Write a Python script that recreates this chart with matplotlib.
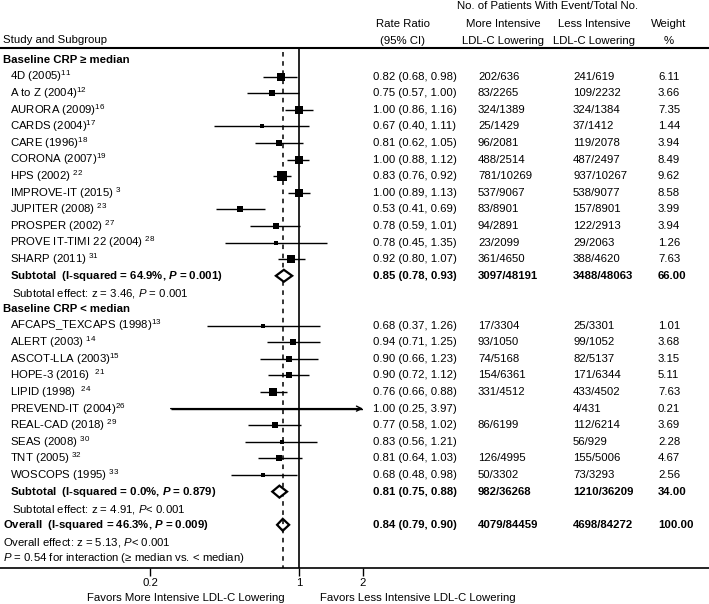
import matplotlib.pyplot as plt
from matplotlib import transforms
from matplotlib.patches import Polygon

plt.rcParams["font.family"] = ["Liberation Sans", "DejaVu Sans"]
plt.rcParams["mathtext.fontset"] = "custom"
plt.rcParams["mathtext.rm"] = "Liberation Sans"
plt.rcParams["mathtext.it"] = "Liberation Sans:italic"
plt.rcParams["mathtext.bf"] = "Liberation Sans:bold"
plt.rcParams["mathtext.bfit"] = "Liberation Sans:bold:italic"

# ---- data: baseline CRP >= median
names_hi = ["4D (2005)", "A to Z (2004)", "AURORA (2009)", "CARDS (2004)", "CARE (1996)",
            "CORONA (2007)", "HPS (2002) ", "IMPROVE-IT (2015) ", "JUPITER (2008) ",
            "PROSPER (2002) ", "PROVE IT-TIMI 22 (2004) ", "SHARP (2011) "]
refs_hi = ["11", "12", "16", "17", "18", "19", "22", "3", "23", "27", "28", "31"]
rr_hi = [0.82, 0.75, 1.00, 0.67, 0.81, 1.00, 0.83, 1.00, 0.53, 0.78, 0.78, 0.92]
lo_hi = [0.68, 0.57, 0.86, 0.40, 0.62, 0.88, 0.76, 0.89, 0.41, 0.59, 0.45, 0.80]
up_hi = [0.98, 1.00, 1.16, 1.11, 1.05, 1.12, 0.92, 1.13, 0.69, 1.01, 1.35, 1.07]
more_hi = ["202/636", "83/2265", "324/1389", "25/1429", "96/2081", "488/2514",
           "781/10269", "537/9067", "83/8901", "94/2891", "23/2099", "361/4650"]
less_hi = ["241/619", "109/2232", "324/1384", "37/1412", "119/2078", "487/2497",
           "937/10267", "538/9077", "157/8901", "122/2913", "29/2063", "388/4620"]
wt_hi = [6.11, 3.66, 7.35, 1.44, 3.94, 8.49, 9.62, 8.58, 3.99, 3.94, 1.26, 7.63]

# ---- data: baseline CRP < median
names_lo = ["AFCAPS_TEXCAPS (1998)", "ALERT (2003) ", "ASCOT-LLA (2003)", "HOPE-3 (2016)  ",
            "LIPID (1998)  ", "PREVEND-IT (2004)", "REAL-CAD (2018) ", "SEAS (2008) ",
            "TNT (2005) ", "WOSCOPS (1995) "]
refs_lo = ["13", "14", "15", "21", "24", "26", "29", "30", "32", "33"]
rr_lo = [0.68, 0.94, 0.90, 0.90, 0.76, 1.00, 0.77, 0.83, 0.81, 0.68]
lo_lo = [0.37, 0.71, 0.66, 0.72, 0.66, 0.25, 0.58, 0.56, 0.64, 0.48]
up_lo = [1.26, 1.25, 1.23, 1.12, 0.88, 3.97, 1.02, 1.21, 1.03, 0.98]
more_lo = ["17/3304", "93/1050", "74/5168", "154/6361", "331/4512", "",
           "86/6199", "", "126/4995", "50/3302"]
less_lo = ["25/3301", "99/1052", "82/5137", "171/6344", "433/4502", "4/431",
           "112/6214", "56/929", "155/5006", "73/3293"]
wt_lo = [1.01, 3.68, 3.15, 5.11, 7.63, 0.21, 3.69, 2.28, 4.67, 2.56]

# ---- pooled estimates: subtotal >= median, subtotal < median, overall
pool_rr = [0.85, 0.81, 0.84]
pool_lo = [0.78, 0.75, 0.79]
pool_up = [0.93, 0.88, 0.90]
pool_more = ["3097/48191", "982/36268", "4079/84459"]
pool_less = ["3488/48063", "1210/36209", "4698/84272"]
pool_wt = ["66.00", "34.00", "100.00"]
pool_het = [r"Subtotal  (I-squared = 64.9%, $\mathbfit{P}$ = 0.001)",
            r"Subtotal  (I-squared = 0.0%, $\mathbfit{P}$ = 0.879)",
            r"Overall  (I-squared = 46.3%, $\mathbfit{P}$ = 0.009)"]
pool_eff = [r"Subtotal effect: z = 3.46, $P$ = 0.001",
            r"Subtotal effect: z = 4.91, $P$< 0.001",
            r"Overall effect: z = 5.13, $P$< 0.001"]

W, H = 709, 604
FS = 8.2
fig = plt.figure(figsize=(W / 100, H / 100), dpi=100)

# forest panel (log scale)
ax = fig.add_axes([150 / W, 1 - 568 / H, (363 - 150) / W, (568 - 48) / H])
ax.set_xscale("log")
ax.set_xlim(0.2, 2.0)
ax.set_ylim(30.6, -0.72)
ax.patch.set_visible(False)
for s in ax.spines.values():
    s.set_visible(False)
ax.set_yticks([])
ax.set_xticks([0.2, 1, 2])
ax.set_xticklabels(["0.2", "1", "2"])
ax.minorticks_off()
ax.tick_params(axis="x", length=6, width=1, pad=1.5, labelsize=FS)

# overlay in pixel coords for text and full-width rules
tax = fig.add_axes([0, 0, 1, 1])
tax.set_xlim(0, W)
tax.set_ylim(H, 0)
tax.axis("off")
tax.patch.set_visible(False)
tr = transforms.blended_transform_factory(tax.transData, ax.transData)

tax.axhline(48, color="black", lw=1.5)
tax.axhline(568, color="black", lw=1.2)

ax.axvline(1, color="black", lw=1.2)
ax.plot([pool_rr[2], pool_rr[2]], [-0.45, 30.6], color="black", lw=1.1,
        ls=(0, (3, 3)), zorder=3)

X_RR, X_MORE, X_LESS, X_WT = 373, 478, 573, 658

# headers
tax.text(3, 43, "Study and Subgroup", fontsize=FS, va="baseline")
tax.text(548, 9, "No. of Patients With Event/Total No.", fontsize=FS, ha="center", va="baseline")
for xc, l1, l2 in [(403, "Rate Ratio", "(95% CI)"),
                   (503, "More Intensive", "LDL-C Lowering"),
                   (594, "Less Intensive", "LDL-C Lowering"),
                   (669, "Weight", "%")]:
    tax.text(xc, 27, l1, fontsize=FS, ha="center", va="baseline")
    tax.text(xc, 44, l2, fontsize=FS, ha="center", va="baseline")


def study_rows(start, names, refs, rr, lo, up, more, less, wt):
    for i in range(len(names)):
        y = start + i
        ax.hlines(y, lo[i], min(up[i], 2.0), color="black", lw=1.0, zorder=2)
        if up[i] > 2.0:
            ax.annotate("", xy=(2.0, y), xytext=(lo[i], y), annotation_clip=False,
                        arrowprops=dict(arrowstyle="->", lw=1.0, color="black",
                                        shrinkA=0, shrinkB=0, mutation_scale=9))
        ax.scatter([rr[i]], [y], marker="s", s=4.85 * wt[i], color="black",
                   linewidths=0, zorder=4)
        tax.text(10, y, names[i] + "$^{" + refs[i] + "}$", transform=tr,
                 fontsize=FS, va="center")
        tax.text(X_RR, y, f"{rr[i]:.2f} ({lo[i]:.2f}, {up[i]:.2f})", transform=tr,
                 fontsize=FS, va="center")
        tax.text(X_MORE, y, more[i], transform=tr, fontsize=FS, va="center")
        tax.text(X_LESS, y, less[i], transform=tr, fontsize=FS, va="center")
        tax.text(X_WT, y, f"{wt[i]:.2f}", transform=tr, fontsize=FS, va="center")


def pooled_row(k, y, xlab, xeff, top):
    h = 0.36
    d = Polygon([(pool_lo[k], y), (pool_rr[k], y - h), (pool_up[k], y), (pool_rr[k], y + h)],
                closed=True, facecolor="white" if top else "none",
                edgecolor="black", lw=1.6, zorder=5 if top else 2)
    ax.add_patch(d)
    tax.text(xlab, y, pool_het[k], transform=tr, fontsize=FS, fontweight="bold", va="center")
    tax.text(xeff, y + 1.05, pool_eff[k], transform=tr, fontsize=FS, va="center")
    tax.text(X_RR, y, f"{pool_rr[k]:.2f} ({pool_lo[k]:.2f}, {pool_up[k]:.2f})",
             transform=tr, fontsize=FS, fontweight="bold", va="center")
    tax.text(X_MORE, y, pool_more[k], transform=tr, fontsize=FS, fontweight="bold", va="center")
    tax.text(X_LESS, y, pool_less[k], transform=tr, fontsize=FS, fontweight="bold", va="center")
    tax.text(X_WT, y, pool_wt[k], transform=tr, fontsize=FS, fontweight="bold", va="center")


tax.text(3, 0, "Baseline CRP ≥ median", transform=tr, fontsize=FS, fontweight="bold", va="center")
study_rows(1, names_hi, refs_hi, rr_hi, lo_hi, up_hi, more_hi, less_hi, wt_hi)
pooled_row(0, 13, 10, 12, True)

tax.text(3, 15, "Baseline CRP < median", transform=tr, fontsize=FS, fontweight="bold", va="center")
study_rows(16, names_lo, refs_lo, rr_lo, lo_lo, up_lo, more_lo, less_lo, wt_lo)
pooled_row(1, 26, 10, 12, True)

pooled_row(2, 28, 3, 3, False)
tax.text(3, 30, r"$P$ = 0.54 for interaction (≥ median vs. < median)", transform=tr,
         fontsize=FS, va="center")

tax.text(285, 598, "Favors More Intensive LDL-C Lowering", fontsize=FS, ha="right", va="center")
tax.text(320, 598, "Favors Less Intensive LDL-C Lowering", fontsize=FS, ha="left", va="center")

fig.savefig("out.png", dpi=100)
